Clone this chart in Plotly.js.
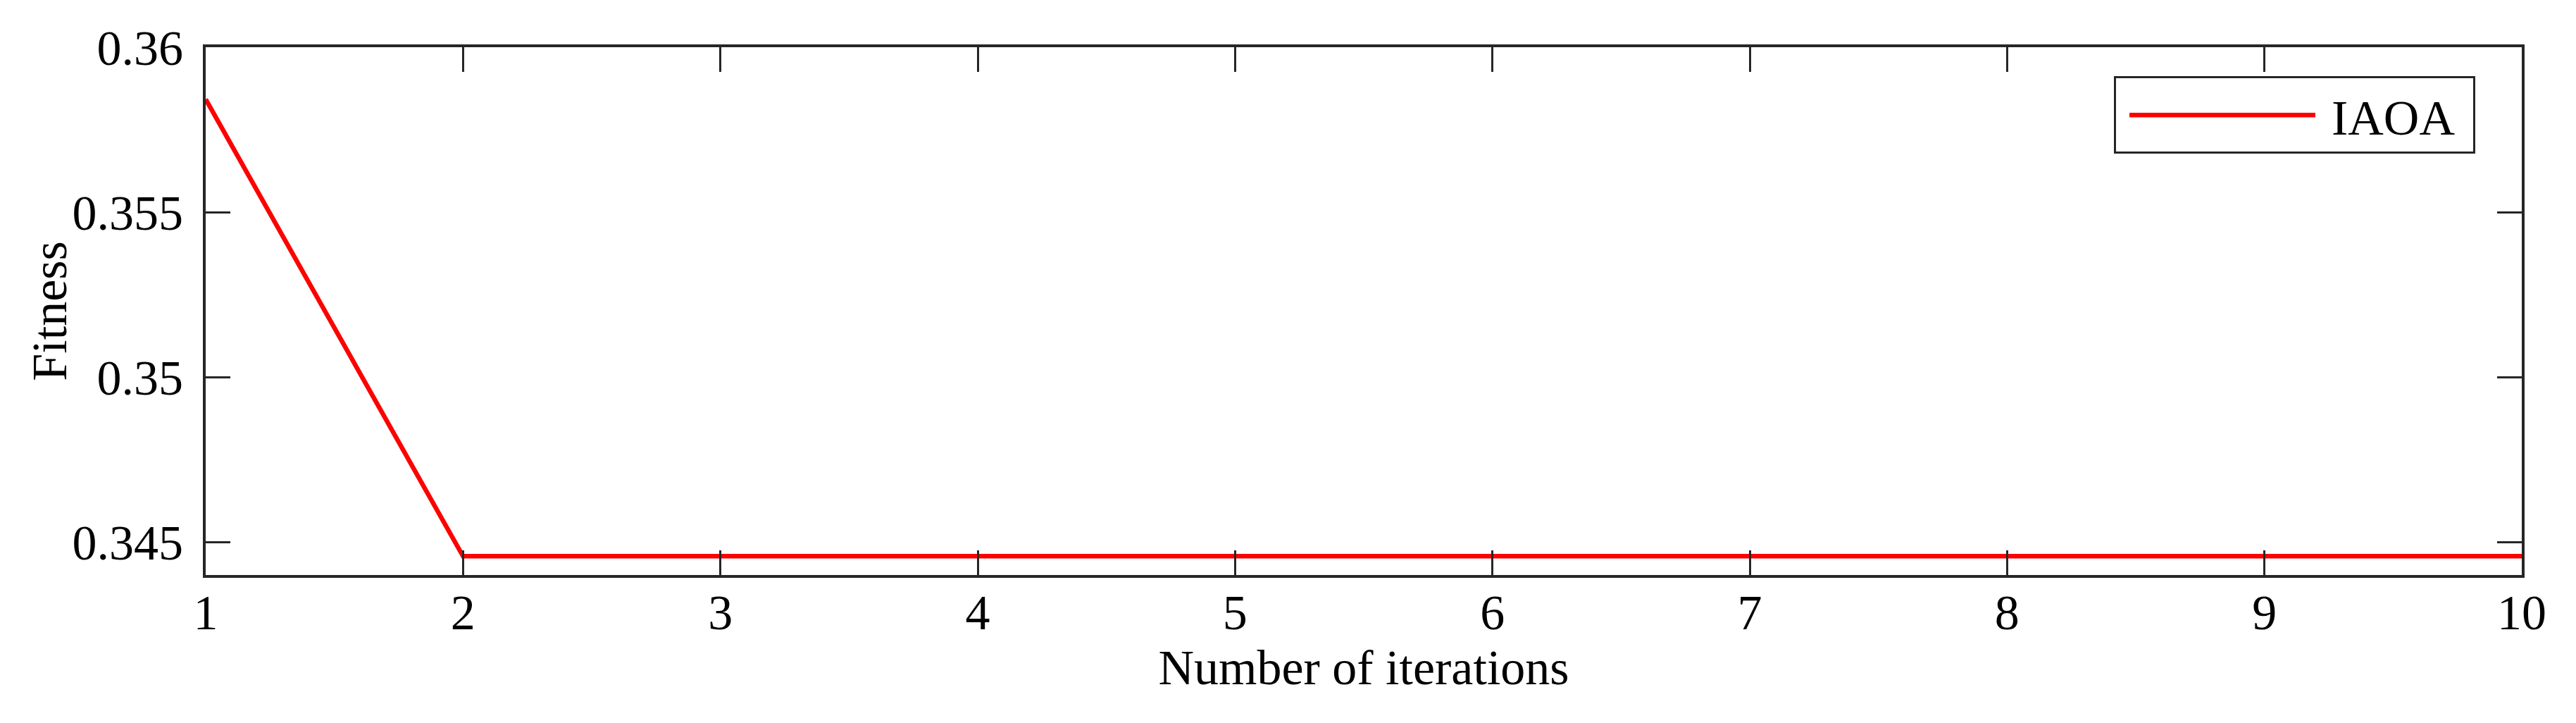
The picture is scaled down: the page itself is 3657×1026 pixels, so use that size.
<!DOCTYPE html>
<html>
<head>
<meta charset="utf-8">
<script src="https://cdn.plot.ly/plotly-3.0.1.min.js"></script>
<style>
html,body{margin:0;padding:0;background:#fff;}
#chart{width:3657px;height:1026px;}
</style>
</head>
<body>
<div id="chart"></div>
<script>
const iterations = [1, 2, 3, 4, 5, 6, 7, 8, 9, 10];
const fitnessIAOA = [0.35842, 0.34457, 0.34457, 0.34457, 0.34457, 0.34457, 0.34457, 0.34457, 0.34457, 0.34457];
const xTicks = [1, 2, 3, 4, 5, 6, 7, 8, 9, 10];
const yTicks = [0.345, 0.35, 0.355, 0.36];
const yTickLabels = ['0.345', '0.35', '0.355', '0.36'];

const FONT = 'Liberation Serif, Times New Roman, serif';
const AX = '#262626';

const trace = {
  x: iterations,
  y: fitnessIAOA,
  type: 'scatter',
  mode: 'lines',
  name: 'IAOA',
  line: {color: '#ff0000', width: 6.5}
};

const layout = {
  width: 3657,
  height: 1026,
  margin: {l: 292, r: 77, t: 67, b: 210, pad: 0},
  paper_bgcolor: '#ffffff',
  plot_bgcolor: '#ffffff',
  font: {family: FONT, size: 70, color: '#000000'},
  showlegend: true,
  legend: {
    x: 0.8239, y: 0.945, xanchor: 'left', yanchor: 'top',
    bgcolor: '#ffffff', bordercolor: AX, borderwidth: 3,
    font: {family: FONT, size: 70, color: '#000000'},
    itemwidth: 296
  },
  xaxis: {
    range: [1, 10],
    tickvals: xTicks,
    ticktext: xTicks.map(String),
    ticks: 'inside', ticklen: 35, tickwidth: 3, tickcolor: AX,
    showline: true, linewidth: 4, linecolor: AX, mirror: 'ticks',
    showgrid: false, zeroline: false,
    tickfont: {family: FONT, size: 70, color: '#000000'},
    ticklabelstandoff: -11,
    title: {text: 'Number of iterations', font: {family: FONT, size: 70, color: '#000000'}, standoff: 16},
    automargin: false
  },
  yaxis: {
    range: [0.344, 0.36],
    tickvals: yTicks,
    ticktext: yTickLabels,
    ticks: 'inside', ticklen: 35, tickwidth: 3, tickcolor: AX,
    showline: true, linewidth: 4, linecolor: AX, mirror: 'ticks',
    showgrid: false, zeroline: false,
    tickfont: {family: FONT, size: 70, color: '#000000'},
    ticklabelstandoff: 14,
    title: {text: 'Fitness', font: {family: FONT, size: 70, color: '#000000'}, standoff: 0},
    automargin: false
  }
};

Plotly.newPlot('chart', [trace], layout, {displayModeBar: false, staticPlot: true}).then(function(){
  // stretch legend sample line and box to match the reference legend proportions
  document.querySelectorAll('.legendlines path').forEach(function(p){
    p.setAttribute('d', 'M19,0h264');
  });
  document.querySelectorAll('.legend rect.bg').forEach(function(r){
    r.setAttribute('width', '510');
  });
  // nudge the y-axis title slightly toward the tick labels
  document.querySelectorAll('.g-ytitle').forEach(function(g){
    g.setAttribute('transform', 'translate(14,0)');
  });
});
</script>
</body>
</html>
